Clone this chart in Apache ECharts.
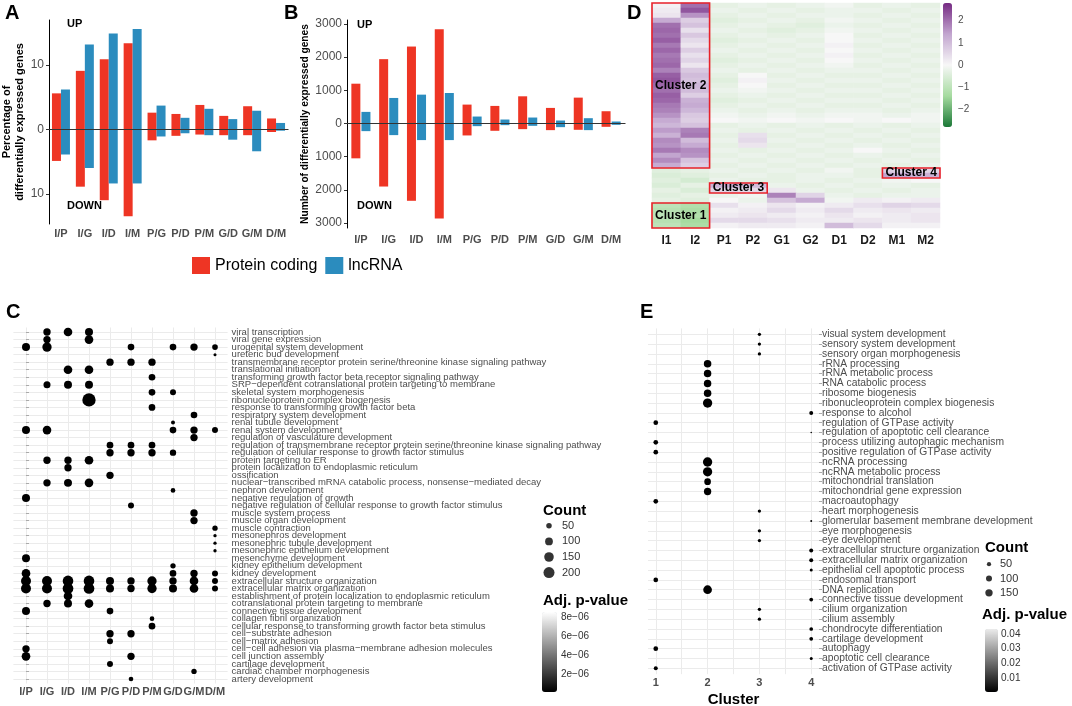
<!DOCTYPE html>
<html>
<head>
<meta charset="utf-8">
<script src="https://cdn.jsdelivr.net/npm/echarts@6/dist/echarts.min.js"></script>
<style>
  html, body { margin: 0; padding: 0; background: #fff; }
  #chart { width: 1072px; height: 706px; }
</style>
</head>
<body>
<div id="chart"></div>
<script>
// ---- panels A / B : up & down regulated genes per comparison
const pairs = ['I/P', 'I/G', 'I/D', 'I/M', 'P/G', 'P/D', 'P/M', 'G/D', 'G/M', 'D/M'];
const pctCodingUp   = [5.6, 9.1, 10.9, 13.4, 2.6, 2.4, 3.8, 2.1, 3.6, 1.7];
const pctCodingDown = [4.9, 8.9, 11.0, 13.5, 1.7, 1.0, 0.8, 0.9, 0.9, 0.4];
const pctLncUp      = [6.2, 13.2, 14.9, 15.6, 3.7, 1.8, 3.2, 1.6, 2.9, 1.0];
const pctLncDown    = [3.9, 6.0, 8.4, 8.4, 1.1, 0.6, 0.9, 1.6, 3.4, 0.2];
const numCodingUp   = [1200, 1940, 2320, 2840, 570, 530, 820, 470, 780, 370];
const numCodingDown = [1050, 1900, 2330, 2860, 360, 220, 170, 200, 190, 100];
const numLncUp      = [350, 770, 870, 920, 210, 120, 180, 90, 160, 60];
const numLncDown    = [230, 350, 500, 500, 80, 50, 70, 110, 200, 40];
const pctTicks = [-10, 0, 10];
const numTicks = [-3000, -2000, -1000, 0, 1000, 2000, 3000];

// ---- panel D : heatmap (rows top -> bottom)
const heatCols = ['I1', 'I2', 'P1', 'P2', 'G1', 'G2', 'D1', 'D2', 'M1', 'M2'];
const heatRows = [
  [0.1, 2.0, -0.3, -0.2, -0.3, -0.2, -0.1, -0.3, -0.2, -0.3],
  [0.2, 2.3, -0.2, -0.3, -0.2, -0.3, -0.2, -0.2, -0.3, -0.2],
  [0.3, 1.6, -0.3, -0.2, -0.3, -0.2, -0.2, -0.3, -0.2, -0.3],
  [1.3, 0.7, -0.4, -0.3, -0.2, -0.3, -0.1, -0.2, -0.3, -0.2],
  [2.0, 0.9, -0.3, -0.2, -0.3, -0.4, -0.2, -0.3, -0.2, -0.3],
  [2.1, 0.4, -0.2, -0.3, -0.4, -0.3, -0.1, -0.2, -0.3, -0.2],
  [2.0, 0.8, -0.3, -0.2, -0.3, -0.2, 0.0, -0.3, -0.2, -0.3],
  [2.2, 0.5, -0.4, -0.3, -0.2, -0.3, 0.0, -0.2, -0.3, -0.2],
  [1.9, 0.3, -0.3, -0.2, -0.3, -0.2, 0.1, -0.3, -0.2, -0.3],
  [2.1, 0.7, -0.2, -0.3, -0.2, -0.3, 0.0, -0.2, -0.3, -0.2],
  [1.9, 0.4, -0.3, -0.2, -0.3, -0.2, 0.1, -0.3, -0.2, -0.3],
  [2.0, 0.6, -0.4, -0.3, -0.2, -0.3, 0.0, -0.2, -0.3, -0.2],
  [2.1, 0.3, -0.3, -0.2, -0.3, -0.2, -0.1, -0.3, -0.2, -0.3],
  [1.8, 0.8, -0.2, -0.3, -0.2, -0.3, -0.2, -0.2, -0.3, -0.2],
  [2.2, 1.0, -0.3, 0.0, -0.3, -0.2, -0.3, -0.3, -0.2, -0.3],
  [2.3, 0.9, -0.4, 0.1, -0.2, -0.3, -0.2, -0.2, -0.3, -0.2],
  [2.1, 1.1, -0.3, 0.0, -0.3, -0.2, -0.3, -0.3, -0.2, -0.3],
  [2.0, 1.0, -0.2, -0.1, -0.2, -0.3, -0.2, -0.2, -0.3, -0.2],
  [2.2, 0.7, -0.3, -0.2, -0.3, -0.2, -0.3, -0.3, -0.2, -0.3],
  [2.1, 1.2, -0.4, -0.3, -0.2, -0.3, -0.2, -0.2, -0.3, -0.2],
  [1.9, 1.3, -0.3, -0.2, -0.3, -0.2, -0.3, -0.3, -0.2, -0.3],
  [1.8, 1.1, -0.2, -0.3, -0.2, -0.3, -0.2, -0.2, -0.3, -0.2],
  [1.6, 0.8, -0.1, -0.2, -0.1, -0.2, -0.1, -0.1, -0.2, -0.1],
  [1.3, 0.7, 0.0, -0.1, 0.0, -0.1, 0.0, -0.1, 0.0, -0.1],
  [1.1, 0.9, -0.3, -0.2, -0.3, -0.2, -0.3, -0.2, -0.3, -0.2],
  [1.5, 1.8, -0.2, -0.3, -0.2, -0.3, -0.2, -0.3, -0.2, -0.3],
  [1.2, 1.9, -0.3, 0.4, -0.3, -0.2, -0.3, -0.2, -0.3, -0.2],
  [1.7, 1.0, -0.2, 0.5, -0.2, -0.3, -0.2, -0.3, -0.2, -0.3],
  [1.6, 1.3, -0.3, 0.3, -0.3, -0.2, -0.3, -0.2, -0.3, -0.2],
  [1.9, 1.7, -0.2, -0.3, -0.2, -0.3, -0.2, 0.0, -0.2, -0.3],
  [1.4, 1.6, -0.3, -0.2, -0.3, -0.2, -0.3, -0.2, -0.3, -0.2],
  [1.7, 0.9, -0.2, -0.3, -0.2, -0.3, -0.2, -0.3, -0.2, -0.3],
  [1.3, 0.7, -0.3, -0.2, -0.3, -0.2, -0.3, -0.2, -0.3, -0.2],
  [-0.4, -0.3, -0.2, -0.3, -0.2, -0.3, -0.1, -0.3, 0.7, 0.6],
  [-0.5, -0.4, -0.3, -0.2, -0.3, -0.2, -0.2, -0.3, 1.4, 1.2],
  [-0.4, -0.6, -0.2, -0.3, -0.3, -0.2, -0.3, -0.2, -0.1, 0.0],
  [-0.5, -0.3, 1.2, 1.0, -0.2, -0.3, -0.2, -0.3, -0.2, -0.3],
  [-0.3, -0.5, 0.6, 0.5, 0.3, -0.2, -0.3, -0.2, -0.3, -0.2],
  [-0.4, -0.3, -0.2, -0.1, 1.8, 0.6, -0.2, -0.3, -0.2, -0.2],
  [-0.3, -0.4, 0.0, -0.2, 0.9, 1.3, -0.1, 0.2, 0.1, 0.2],
  [-1.0, -1.2, 0.4, 0.1, 0.3, 0.1, 0.2, 0.4, 0.6, 0.5],
  [-1.1, -1.3, 0.1, 0.2, 0.5, 0.2, 0.5, 0.2, 0.3, 0.2],
  [-1.0, -1.2, 0.2, 0.3, 0.2, 0.1, 0.3, 0.1, 0.2, 0.3],
  [-1.1, -1.4, 0.5, 0.5, 0.4, 0.2, 0.2, 0.3, 0.2, 0.3],
  [-1.0, -1.3, 0.1, 0.2, 0.2, 0.1, 1.0, 0.5, 0.1, 0.1]
];
const heatTicks = [-2, -1, 0, 1, 2];
const clusterBoxes = [
  { label: 'Cluster 2', cols: [0, 1], rows: [0, 32] },
  { label: 'Cluster 1', cols: [0, 1], rows: [40, 44] },
  { label: 'Cluster 3', cols: [2, 3], rows: [36, 37] },
  { label: 'Cluster 4', cols: [8, 9], rows: [33, 34] }
];

// ---- panel C : GO terms per comparison  [pair index, term index, count]
const cTerms = [
  'viral transcription', 'viral gene expression', 'urogenital system development', 'ureteric bud development',
  'transmembrane receptor protein serine/threonine kinase signaling pathway', 'translational initiation',
  'transforming growth factor beta receptor signaling pathway', 'SRP\u2212dependent cotranslational protein targeting to membrane',
  'skeletal system morphogenesis', 'ribonucleoprotein complex biogenesis', 'response to transforming growth factor beta',
  'respiratory system development', 'renal tubule development', 'renal system development',
  'regulation of vasculature development',
  'regulation of transmembrane receptor protein serine/threonine kinase signaling pathway',
  'regulation of cellular response to growth factor stimulus', 'protein targeting to ER',
  'protein localization to endoplasmic reticulum', 'ossification',
  'nuclear\u2212transcribed mRNA catabolic process, nonsense\u2212mediated decay', 'nephron development',
  'negative regulation of growth', 'negative regulation of cellular response to growth factor stimulus',
  'muscle system process', 'muscle organ development', 'muscle contraction', 'mesonephros development',
  'mesonephric tubule development', 'mesonephric epithelium development', 'mesenchyme development',
  'kidney epithelium development', 'kidney development', 'extracellular structure organization',
  'extracellular matrix organization', 'establishment of protein localization to endoplasmic reticulum',
  'cotranslational protein targeting to membrane', 'connective tissue development', 'collagen fibril organization',
  'cellular response to transforming growth factor beta stimulus', 'cell\u2212substrate adhesion',
  'cell\u2212matrix adhesion', 'cell\u2212cell adhesion via plasma\u2212membrane adhesion molecules',
  'cell junction assembly', 'cartilage development', 'cardiac chamber morphogenesis', 'artery development'
];
const cDots = [
  [1, 0, 89], [2, 0, 123], [3, 0, 105],
  [1, 1, 89], [3, 1, 123],
  [0, 2, 105], [1, 2, 143], [5, 2, 73], [7, 2, 73], [8, 2, 89], [9, 2, 53],
  [9, 3, 15],
  [4, 4, 89], [5, 4, 89], [6, 4, 89],
  [2, 5, 123], [3, 5, 123],
  [6, 6, 73],
  [1, 7, 81], [2, 7, 105], [3, 7, 105],
  [6, 8, 73], [7, 8, 59],
  [3, 9, 292],
  [6, 10, 73],
  [8, 11, 73],
  [7, 12, 26],
  [0, 13, 105], [1, 13, 123], [7, 13, 73], [8, 13, 89], [9, 13, 59],
  [8, 14, 89],
  [4, 15, 73], [5, 15, 73], [6, 15, 73],
  [4, 16, 89], [5, 16, 89], [6, 16, 89], [7, 16, 66],
  [1, 17, 89], [2, 17, 89], [3, 17, 123],
  [2, 18, 89],
  [4, 19, 89],
  [1, 20, 89], [2, 20, 105], [3, 20, 123],
  [7, 21, 36],
  [0, 22, 105],
  [5, 23, 59],
  [8, 24, 89],
  [8, 25, 89],
  [9, 26, 47],
  [9, 27, 18], [9, 28, 18], [9, 29, 18],
  [0, 30, 105],
  [7, 31, 47],
  [0, 32, 123], [7, 32, 73], [8, 32, 89], [9, 32, 59],
  [0, 33, 164], [1, 33, 164], [2, 33, 187], [3, 33, 187], [4, 33, 105], [5, 33, 89], [6, 33, 143], [7, 33, 89], [8, 33, 123], [9, 33, 59],
  [0, 34, 164], [1, 34, 164], [2, 34, 187], [3, 34, 187], [4, 34, 105], [5, 34, 89], [6, 34, 143], [7, 34, 105], [8, 34, 123], [9, 34, 59],
  [2, 35, 123],
  [1, 36, 89], [2, 36, 105], [3, 36, 123],
  [0, 37, 105], [4, 37, 73],
  [6, 38, 36],
  [6, 39, 73],
  [4, 40, 89], [5, 40, 89],
  [4, 41, 59],
  [0, 42, 89],
  [0, 43, 123], [5, 43, 89],
  [4, 44, 59],
  [8, 45, 47],
  [5, 46, 36]
];
const cCountKeys = [50, 100, 150, 200];
const cPvalTicks = [2e-6, 4e-6, 6e-6, 8e-6];

// ---- panel E : GO terms per cluster  [cluster, term index, count]
const eTerms = [
  'visual system development', 'sensory system development', 'sensory organ morphogenesis', 'rRNA processing',
  'rRNA metabolic process', 'RNA catabolic process', 'ribosome biogenesis', 'ribonucleoprotein complex biogenesis',
  'response to alcohol', 'regulation of GTPase activity', 'regulation of apoptotic cell clearance',
  'process utilizing autophagic mechanism', 'positive regulation of GTPase activity', 'ncRNA processing',
  'ncRNA metabolic process', 'mitochondrial translation', 'mitochondrial gene expression', 'macroautophagy',
  'heart morphogenesis', 'glomerular basement membrane development', 'eye morphogenesis', 'eye development',
  'extracellular structure organization', 'extracellular matrix organization', 'epithelial cell apoptotic process',
  'endosomal transport', 'DNA replication', 'connective tissue development', 'cilium organization',
  'cilium assembly', 'chondrocyte differentiation', 'cartilage development', 'autophagy',
  'apoptotic cell clearance', 'activation of GTPase activity'
];
const eDots = [
  [3, 0, 30], [3, 1, 30], [3, 2, 30], [2, 3, 156], [2, 4, 156], [2, 5, 156], [2, 6, 156], [2, 7, 240],
  [4, 8, 44], [1, 9, 61], [4, 10, 7], [1, 11, 61], [1, 12, 61], [2, 13, 240], [2, 14, 240], [2, 15, 124],
  [2, 16, 150], [1, 17, 61], [3, 18, 30], [4, 19, 10], [3, 20, 30], [3, 21, 30], [4, 22, 44], [4, 23, 44],
  [4, 24, 25], [1, 25, 61], [2, 26, 210], [4, 27, 38], [3, 28, 30], [3, 29, 30], [4, 30, 38], [4, 31, 38],
  [1, 32, 61], [4, 33, 25], [1, 34, 44]
];
const clusters = [1, 2, 3, 4];
const eGridTicks = [1, 1.5, 2, 2.5, 3, 3.5, 4];
const eCountKeys = [50, 100, 150];
const ePvalTicks = [0.01, 0.02, 0.03, 0.04];

const FONT = 'Liberation Sans, Arial, sans-serif';
const RED = '#ee3524';
const BLUE = '#2b8cbe';
const GRIDLINE = { color: '#ebebeb', width: 1 };

const neg = a => a.map(v => -v);
const idx = n => Array.from({ length: n }, (_, i) => i);
const sizeC = c => 0.78 * Math.sqrt(c);
const sizeE = c => 0.6 * Math.sqrt(c);
const minus = v => String(v).replace('-', '\u2212');
const sci = v => {
  const [m, e] = v.toExponential(0).split('e');
  return m + 'e' + (+e < 0 ? '\u2212' : '+') + String(Math.abs(+e)).padStart(2, '0');
};

const chart = echarts.init(document.getElementById('chart'));

function barPair(gi, name, color, up, down, stack, gap, zero) {
  return [up, neg(down)].map((d, k) => ({
    name, type: 'bar', xAxisIndex: gi, yAxisIndex: gi, stack, data: d,
    barWidth: 9, barGap: gap, silent: true,
    itemStyle: { color },
    markLine: (zero && k === 0) ? {
      silent: true, symbol: 'none', label: { show: false },
      lineStyle: { color: '#333', width: 1, type: 'solid' },
      data: [{ yAxis: 0 }]
    } : undefined
  }));
}

const catX = (gi, data, margin) => ({
  type: 'category', gridIndex: gi, data,
  axisLine: { lineStyle: { color: '#000', width: 1 } },
  axisTick: { alignWithLabel: true, interval: 0, length: 3, lineStyle: { color: '#333' } },
  axisLabel: { interval: 0, hideOverlap: false, fontFamily: FONT, fontSize: 11, fontWeight: 'bold', color: '#4d4d4d', margin }
});
const valY = (gi, min, max, ticks, name, nameGap, nameSize) => ({
  type: 'value', gridIndex: gi, min, max,
  axisLine: { show: true, lineStyle: { color: '#000', width: 1 } },
  splitLine: { show: false },
  axisTick: { show: true, length: 3, customValues: ticks, lineStyle: { color: '#333' } },
  axisLabel: { customValues: ticks, formatter: v => String(Math.abs(v)), fontFamily: FONT, fontSize: 12, color: '#4d4d4d', margin: 5 },
  name, nameLocation: 'middle', nameGap,
  nameTextStyle: { fontFamily: FONT, fontSize: nameSize, fontWeight: 'bold', color: '#000', lineHeight: 13 }
});
// term axes: rows split over two overlaid axes (even / odd) so that
// neighbouring labels never get dropped as overlapping
const termY = (gi, terms, parity, size, margin) => {
  const rows = idx(terms.length).filter(i => i % 2 === parity);
  return {
    type: 'value', gridIndex: gi, min: -0.6, max: terms.length - 0.4, inverse: true, position: 'right',
    axisLine: { show: false },
    axisTick: { show: parity === 0, length: 3, customValues: idx(terms.length), lineStyle: { color: '#aaa' } },
    splitLine: { show: parity === 0, lineStyle: GRIDLINE },
    axisLabel: { customValues: rows, formatter: v => terms[Math.round(v)],
      showMinLabel: true, showMaxLabel: true, hideOverlap: false,
      fontFamily: FONT, fontSize: size, color: '#4d4d4d', margin }
  };
};
const hidden = (gi, min, max) => ({ type: 'value', gridIndex: gi, show: false, min, max });

const option = {
  animation: false,
  backgroundColor: '#fff',
  textStyle: { fontFamily: FONT },
  grid: [
    { left: 49, top: 20, width: 239, height: 204 },              // 0 A
    { left: 347, top: 20, width: 278, height: 208 },             // 1 B
    { left: 652, top: 3, width: 288, height: 225 },              // 2 D heatmap
    { left: 943, top: 3, width: 9, height: 124 },                // 3 D colour bar
    { left: 13.4, top: 327.5, width: 214.2, height: 356 },       // 4 C
    { left: 544, top: 518, width: 10, height: 62.4 },            // 5 C count key
    { left: 542, top: 612, width: 15, height: 80 },              // 6 C p key
    { left: 648, top: 328.4, width: 171, height: 345.8 },        // 7 E
    { left: 984, top: 557, width: 10, height: 43 },              // 8 E count key
    { left: 985, top: 629, width: 13, height: 63 }               // 9 E p key
  ].map(g => Object.assign({ outerBoundsMode: 'none' }, g)),
  legend: {
    data: ['Protein coding', 'lncRNA'], left: 187, top: 252,
    icon: 'rect', itemWidth: 18, itemHeight: 17, itemGap: 8,
    textStyle: { fontFamily: FONT, fontSize: 16, color: '#000' }, selectedMode: false
  },
  xAxis: [
    catX(0, pairs, 4),
    catX(1, pairs, 6),
    { type: 'category', gridIndex: 2, data: heatCols, axisLine: { show: false }, axisTick: { show: false },
      axisLabel: { interval: 0, fontFamily: FONT, fontSize: 12, fontWeight: 'bold', color: '#1a1a1a', margin: 7 } },
    hidden(3, 0, 1),
    { type: 'value', gridIndex: 4, min: -0.6, max: 9.6, axisLine: { show: false },
      axisTick: { show: false, customValues: idx(pairs.length) },
      splitLine: { show: true, lineStyle: GRIDLINE },
      axisLabel: { customValues: idx(pairs.length), formatter: v => pairs[Math.round(v)],
        showMinLabel: true, showMaxLabel: true, hideOverlap: false,
        fontFamily: FONT, fontSize: 11, fontWeight: 'bold', color: '#4d4d4d', margin: 3 } },
    hidden(5, -1, 1),
    hidden(6, 0, 1),
    { type: 'value', gridIndex: 7, min: 0.85, max: 4.15, axisLine: { show: false },
      axisTick: { show: false, customValues: eGridTicks },
      splitLine: { show: true, lineStyle: GRIDLINE },
      axisLabel: { customValues: clusters, showMinLabel: true, showMaxLabel: true,
        fontFamily: FONT, fontSize: 11, fontWeight: 'bold', color: '#4d4d4d', margin: 3 },
      name: 'Cluster', nameLocation: 'middle', nameGap: 18,
      nameTextStyle: { fontFamily: FONT, fontSize: 15, fontWeight: 'bold', color: '#000' } },
    hidden(8, -1, 1),
    hidden(9, 0, 1)
  ],
  yAxis: [
    valY(0, -14.7, 17, pctTicks, 'Percentage of\ndifferentially expressed genes', 21, 11),
    valY(1, -3150, 3120, numTicks, 'Number of differentially expressed genes', 32, 10.2),
    { type: 'category', gridIndex: 2, data: heatRows.map((r, i) => String(i)), inverse: true, show: false },
    { type: 'value', gridIndex: 3, min: -2.8, max: 2.8, position: 'right',
      axisLine: { show: false }, axisTick: { show: false }, splitLine: { show: false },
      axisLabel: { customValues: heatTicks, formatter: minus, fontFamily: FONT, fontSize: 10, color: '#4d4d4d', margin: 6 } },
    termY(4, cTerms, 0, 9.5, 4),
    { type: 'category', gridIndex: 5, data: cCountKeys.map(String), inverse: true, position: 'right',
      axisLine: { show: false }, axisTick: { show: false },
      axisLabel: { interval: 0, fontFamily: FONT, fontSize: 11, color: '#333', margin: 8 } },
    { type: 'value', gridIndex: 6, min: 2e-7, max: 8.5e-6, position: 'right',
      axisLine: { show: false }, splitLine: { show: false },
      axisTick: { show: true, inside: true, length: 3, customValues: cPvalTicks, lineStyle: { color: '#fff' } },
      axisLabel: { customValues: cPvalTicks, formatter: sci, fontFamily: FONT, fontSize: 10, color: '#333', margin: 4 } },
    termY(7, eTerms, 0, 10.3, 3),
    { type: 'category', gridIndex: 8, data: eCountKeys.map(String), inverse: true, position: 'right',
      axisLine: { show: false }, axisTick: { show: false },
      axisLabel: { interval: 0, fontFamily: FONT, fontSize: 11, color: '#333', margin: 6 } },
    { type: 'value', gridIndex: 9, min: 0.0005, max: 0.0434, position: 'right',
      axisLine: { show: false }, splitLine: { show: false },
      axisTick: { show: true, inside: true, length: 3, customValues: ePvalTicks, lineStyle: { color: '#fff' } },
      axisLabel: { customValues: ePvalTicks, formatter: v => v.toFixed(2), fontFamily: FONT, fontSize: 10, color: '#333', margin: 3 } },
    termY(4, cTerms, 1, 9.5, 4),                                  // 10 C odd rows
    termY(7, eTerms, 1, 10.3, 3)                                  // 11 E odd rows
  ],
  visualMap: [
    { type: 'continuous', seriesIndex: 8, dimension: 2, min: -2.8, max: 2.8,
      inRange: { color: ['#1b7837', '#a6dba0', '#f7f7f7', '#c2a5cf', '#762a83'] },
      left: 943, top: 3, itemWidth: 9, itemHeight: 124, padding: 0, calculable: false, hoverLink: false },
    { type: 'continuous', seriesIndex: 11, min: 2e-7, max: 8.5e-6,
      inRange: { color: ['#000000', '#ffffff'] },
      left: 542, top: 612, itemWidth: 15, itemHeight: 80, padding: 0, calculable: false, hoverLink: false },
    { type: 'continuous', seriesIndex: 14, min: 0.0005, max: 0.0434,
      inRange: { color: ['#000000', '#ebebeb'] },
      left: 985, top: 629, itemWidth: 13, itemHeight: 63, padding: 0, calculable: false, hoverLink: false }
  ],
  series: [
    ...barPair(0, 'Protein coding', RED, pctCodingUp, pctCodingDown, 'aPc', '0%', true),
    ...barPair(0, 'lncRNA', BLUE, pctLncUp, pctLncDown, 'aLnc', '0%', false),
    ...barPair(1, 'Protein coding', RED, numCodingUp, numCodingDown, 'bPc', '12%', true),
    ...barPair(1, 'lncRNA', BLUE, numLncUp, numLncDown, 'bLnc', '12%', false),
    { type: 'heatmap', xAxisIndex: 2, yAxisIndex: 2, silent: true, progressive: 0,
      data: heatRows.flatMap((row, r) => row.map((v, c) => [c, r, v])) },
    { type: 'scatter', xAxisIndex: 4, yAxisIndex: 4, silent: true, data: cDots,
      symbolSize: v => sizeC(v[2]), itemStyle: { color: '#000', opacity: 1 } },
    { type: 'scatter', xAxisIndex: 5, yAxisIndex: 5, silent: true,
      data: cCountKeys.map(c => [0, String(c), c]), symbolSize: v => sizeC(v[2]), itemStyle: { color: '#000' } },
    { type: 'scatter', xAxisIndex: 6, yAxisIndex: 6, silent: true, data: [] },
    { type: 'scatter', xAxisIndex: 7, yAxisIndex: 7, silent: true, data: eDots,
      symbolSize: v => sizeE(v[2]), itemStyle: { color: '#000', opacity: 1 } },
    { type: 'scatter', xAxisIndex: 8, yAxisIndex: 8, silent: true,
      data: eCountKeys.map(c => [0, String(c), c]), symbolSize: v => sizeE(v[2]), itemStyle: { color: '#000' } },
    { type: 'scatter', xAxisIndex: 9, yAxisIndex: 9, silent: true, data: [] }
  ]
};

chart.setOption(option);

// texts and cluster boxes
const label = (text, x, y, size, extra) => ({
  type: 'text', x, y, silent: true, z: 110,
  style: Object.assign({ text, fontFamily: FONT, fontSize: size, fontWeight: 'bold', fill: '#000' }, extra || {})
});
const elements = [
  label('A', 5, 3, 20), label('B', 284, 3, 20), label('D', 627, 3, 20),
  label('C', 6, 302, 20), label('E', 640, 302, 20),
  label('UP', 67, 18, 11), label('DOWN', 67, 200, 11),
  label('UP', 357, 19, 11), label('DOWN', 357, 200, 11),
  label('Count', 543, 503, 15), label('Adj. p-value', 543, 593, 15),
  label('Count', 985, 540, 15), label('Adj. p-value', 982, 607, 15)
];
const px = (c, r) => chart.convertToPixel({ gridIndex: 2 }, [c, r]);
const cellW = px(1, 0)[0] - px(0, 0)[0];
const cellH = px(0, 1)[1] - px(0, 0)[1];
clusterBoxes.forEach(b => {
  const p0 = px(b.cols[0], b.rows[0]);
  const p1 = px(b.cols[1], b.rows[1]);
  const x0 = p0[0] - cellW / 2, y0 = p0[1] - cellH / 2;
  const x1 = p1[0] + cellW / 2, y1 = p1[1] + cellH / 2;
  elements.push({
    type: 'rect', silent: true, z: 100,
    shape: { x: x0, y: y0, width: x1 - x0, height: y1 - y0 },
    style: { fill: 'none', stroke: '#e8212a', lineWidth: 1.6 }
  });
  elements.push(label(b.label, (x0 + x1) / 2, (y0 + y1) / 2, 12, { align: 'center', verticalAlign: 'middle' }));
});
chart.setOption({ graphic: { elements } });
</script>
</body>
</html>
